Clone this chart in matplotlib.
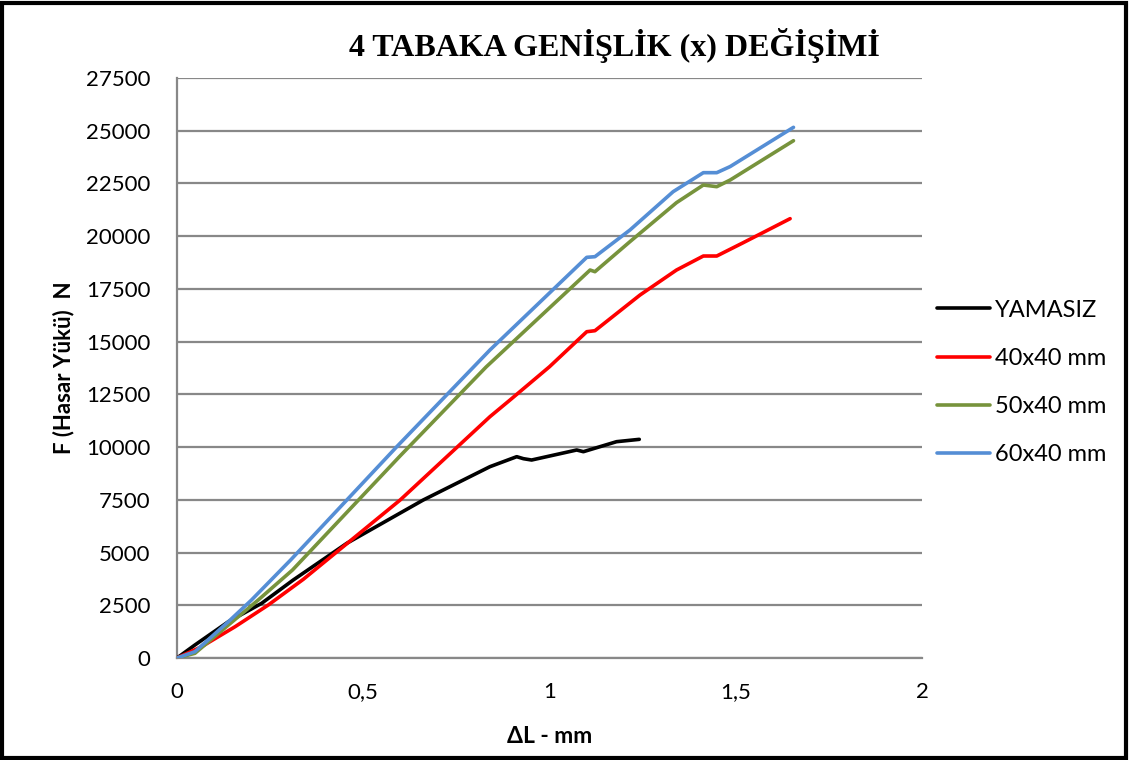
import matplotlib
matplotlib.use("Agg")
import matplotlib.pyplot as plt
from matplotlib.patches import Rectangle
from matplotlib.ticker import FuncFormatter

title = "4 TABAKA GENİŞLİK (x) DEĞİŞİMİ"
xlabel = "ΔL - mm"
ylabel = "F (Hasar Yükü)  N"

names = ["YAMASIZ", "40x40 mm", "50x40 mm", "60x40 mm"]
colors = ["#000000", "#FF0000", "#77933C", "#558ED5"]

yam_x = [0, 0.048, 0.138, 0.227, 0.312, 0.456, 0.661, 0.84, 0.912, 0.93, 0.952, 1.073, 1.091, 1.18, 1.241]
yam_y = [0, 616, 1722, 2591, 3698, 5440, 7491, 9070, 9545, 9450, 9387, 9862, 9782, 10256, 10367]

r_x = [0, 0.066, 0.156, 0.245, 0.339, 0.45, 0.599, 0.84, 0.894, 1.0, 1.10, 1.122, 1.243, 1.341, 1.413, 1.449, 1.52, 1.646]
r_y = [0, 537, 1485, 2513, 3730, 5335, 7490, 11440, 12232, 13810, 15470, 15518, 17210, 18395, 19059, 19059, 19690, 20830]

g_x = [0, 0.048, 0.138, 0.218, 0.31, 0.6, 0.83, 1.109, 1.122, 1.216, 1.341, 1.413, 1.449, 1.485, 1.655]
g_y = [0, 222, 1565, 2750, 4172, 9600, 13800, 18395, 18315, 19740, 21590, 22425, 22346, 22662, 24526]

b_x = [0, 0.048, 0.138, 0.2, 0.305, 0.59, 0.84, 1.10, 1.122, 1.216, 1.332, 1.413, 1.449, 1.485, 1.655]
b_y = [0, 300, 1722, 2750, 4646, 10018, 14602, 18997, 19027, 20292, 22110, 23010, 23010, 23300, 25160]

series = [(yam_x, yam_y), (r_x, r_y), (g_x, g_y), (b_x, b_y)]

xticks = [0, 0.5, 1, 1.5, 2]
yticks = list(range(0, 27501, 2500))

font = ["Lato", "DejaVu Sans"]

fig = plt.figure(figsize=(11.31, 7.60), dpi=100)
ax = fig.add_axes([0.1565, 0.1342, 0.6587, 0.7632])

for (xs, ys), c, n in zip(series, colors, names):
    ax.plot(xs, ys, color=c, lw=2.6, label=n, solid_joinstyle="round", solid_capstyle="round", zorder=3)

ax.set_xlim(0, 2)
ax.set_ylim(0, 27500)
ax.set_xticks(xticks)
ax.set_yticks(yticks)
ax.xaxis.set_major_formatter(FuncFormatter(lambda v, p: ("%g" % v).replace(".", ",")))
ax.yaxis.set_major_formatter(FuncFormatter(lambda v, p: "%d" % v))
ax.grid(axis="y", color="#888888", lw=1.6, zorder=0)
ax.set_axisbelow(True)
for s in ["top", "right"]:
    ax.spines[s].set_visible(False)
for s in ["left", "bottom"]:
    ax.spines[s].set_color("#888888")
    ax.spines[s].set_linewidth(1.6)
ax.tick_params(length=0)
ax.tick_params(axis="y", pad=19)
ax.tick_params(axis="x", pad=17)
for lab in ax.get_xticklabels() + ax.get_yticklabels():
    lab.set_family(font)
    lab.set_fontsize(16)

ax.set_xlabel(xlabel, family=font, fontsize=16.5, fontweight="bold", va="center")
ax.xaxis.set_label_coords(0.5, -0.1345)
ax.set_ylabel(ylabel, family=font, fontsize=16, fontweight="bold", va="center")
ax.yaxis.set_label_coords(-0.153, 0.5)

fig.text(0.5435, 0.94, title, family=["Liberation Serif"], fontsize=23, fontweight="bold",
         ha="center", va="center")

leg = ax.legend(loc="center left", bbox_to_anchor=(1.0201, 0.475), frameon=False,
                prop={"family": font, "size": 17}, handlelength=2.25, handletextpad=0.2,
                labelspacing=1.15, borderpad=0, borderaxespad=0)

fig.patches.append(Rectangle((0.002, 0.003), 0.994, 0.993, transform=fig.transFigure,
                             fill=False, edgecolor="black", lw=3))

fig.savefig("out.png", dpi=100)
